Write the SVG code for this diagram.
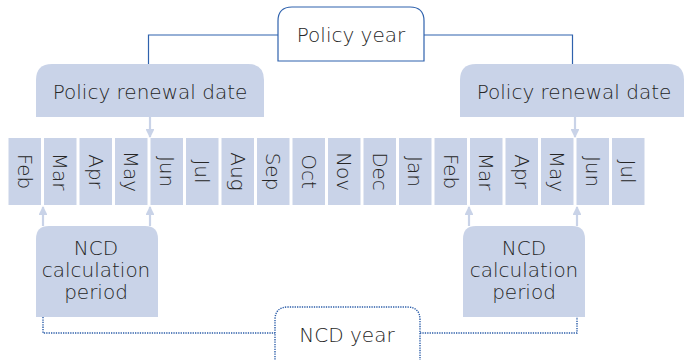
<svg xmlns="http://www.w3.org/2000/svg" width="684" height="360" viewBox="0 0 684 360">
<style>
.t{font-family:"DejaVu Sans","Liberation Sans",sans-serif;font-size:20px;font-weight:300;fill:#262626;text-anchor:middle}
.cell{fill:#c9d3e8}
.box{fill:#c9d3e8}
.arr{stroke:#c9d3e8;stroke-width:2.2;fill:none;marker-end:url(#ah)}
.solid{stroke:#2f62ad;stroke-width:1.2;fill:none}
.dot{stroke:#2a5ca8;stroke-width:1.4;fill:none;stroke-dasharray:1.3 1.1}
</style>
<defs>
<marker id="ah" viewBox="0 0 10 10" refX="9" refY="5" markerWidth="4" markerHeight="4" orient="auto" markerUnits="strokeWidth">
<path d="M0,0 L10,5 L0,10 z" fill="#c9d3e8"/>
</marker>
</defs>
<g id="connectors">
<path class="solid" d="M278,35 H148.5 V64"/>
<path class="solid" d="M424,35 H572.5 V64"/>
<path class="dot" d="M43,317 V333 H275"/>
<path class="dot" d="M420,333 H577 V317"/>
<path class="arr" d="M150,117 V137"/>
<path class="arr" d="M575,117 V137"/>
<path class="arr" d="M43,226 V207"/>
<path class="arr" d="M150,226 V207"/>
<path class="arr" d="M469,226 V207"/>
<path class="arr" d="M577,226 V207"/>
</g>
<g id="policy-year">
<path d="M278,61 V21 Q278,7 292,7 H410 Q424,7 424,21 V61 Z" fill="#fff" stroke="#2f62ad" stroke-width="1.2"/>
<text class="t" x="351" y="42">Policy year</text>
</g>
<g id="renewal-left">
<path class="box" d="M36,117 V80 Q36,64 52,64 H248 Q264,64 264,80 V117 Z"/>
<text class="t" x="150" y="99">Policy renewal date</text>
</g>
<g id="renewal-right">
<path class="box" d="M460,117 V80 Q460,64 476,64 H668 Q684,64 684,80 V117 Z"/>
<text class="t" x="574" y="99">Policy renewal date</text>
</g>
<g id="months">
<rect class="cell" x="8.5" y="138" width="32.5" height="67"/>
<rect class="cell" x="44" y="138" width="32.5" height="67"/>
<rect class="cell" x="79.5" y="138" width="32.5" height="67"/>
<rect class="cell" x="115" y="138" width="32.5" height="67"/>
<rect class="cell" x="150.5" y="138" width="32.5" height="67"/>
<rect class="cell" x="186" y="138" width="32.5" height="67"/>
<rect class="cell" x="221.5" y="138" width="32.5" height="67"/>
<rect class="cell" x="257" y="138" width="32.5" height="67"/>
<rect class="cell" x="292.5" y="138" width="32.5" height="67"/>
<rect class="cell" x="328" y="138" width="32.5" height="67"/>
<rect class="cell" x="363.5" y="138" width="32.5" height="67"/>
<rect class="cell" x="399" y="138" width="32.5" height="67"/>
<rect class="cell" x="434.5" y="138" width="32.5" height="67"/>
<rect class="cell" x="470" y="138" width="32.5" height="67"/>
<rect class="cell" x="505.5" y="138" width="32.5" height="67"/>
<rect class="cell" x="541" y="138" width="32.5" height="67"/>
<rect class="cell" x="576.5" y="138" width="32.5" height="67"/>
<rect class="cell" x="612" y="138" width="32.5" height="67"/>
<text class="t" transform="translate(24.75,171.5) rotate(90)" dy="0.35em">Feb</text>
<text class="t" transform="translate(60.25,171.5) rotate(90)" dy="0.35em">Mar</text>
<text class="t" transform="translate(95.75,171.5) rotate(90)" dy="0.35em">Apr</text>
<text class="t" transform="translate(131.25,171.5) rotate(90)" dy="0.35em">May</text>
<text class="t" transform="translate(166.75,171.5) rotate(90)" dy="0.35em">Jun</text>
<text class="t" transform="translate(202.25,171.5) rotate(90)" dy="0.35em">Jul</text>
<text class="t" transform="translate(237.75,171.5) rotate(90)" dy="0.35em">Aug</text>
<text class="t" transform="translate(273.25,171.5) rotate(90)" dy="0.35em">Sep</text>
<text class="t" transform="translate(308.75,171.5) rotate(90)" dy="0.35em">Oct</text>
<text class="t" transform="translate(344.25,171.5) rotate(90)" dy="0.35em">Nov</text>
<text class="t" transform="translate(379.75,171.5) rotate(90)" dy="0.35em">Dec</text>
<text class="t" transform="translate(415.25,171.5) rotate(90)" dy="0.35em">Jan</text>
<text class="t" transform="translate(450.75,171.5) rotate(90)" dy="0.35em">Feb</text>
<text class="t" transform="translate(486.25,171.5) rotate(90)" dy="0.35em">Mar</text>
<text class="t" transform="translate(521.75,171.5) rotate(90)" dy="0.35em">Apr</text>
<text class="t" transform="translate(557.25,171.5) rotate(90)" dy="0.35em">May</text>
<text class="t" transform="translate(592.75,171.5) rotate(90)" dy="0.35em">Jun</text>
<text class="t" transform="translate(628.25,171.5) rotate(90)" dy="0.35em">Jul</text>
</g>
<g id="ncd-left">
<path class="box" d="M36,317 V239 Q36,226 49,226 H145 Q158,226 158,239 V317 Z"/>
<text class="t" x="96" y="255">NCD</text>
<text class="t" x="96" y="277">calculation</text>
<text class="t" x="96" y="299">period</text>
</g>
<g id="ncd-right">
<path class="box" d="M463,317 V239 Q463,226 476,226 H572 Q585,226 585,239 V317 Z"/>
<text class="t" x="524" y="255">NCD</text>
<text class="t" x="524" y="277">calculation</text>
<text class="t" x="524" y="299">period</text>
</g>
<g id="ncd-year">
<path class="dot" d="M275,362 V320 Q275,307 288,307 H407 Q420,307 420,320 V362" fill="#fff"/>
<text class="t" x="347" y="342">NCD year</text>
</g>
</svg>
